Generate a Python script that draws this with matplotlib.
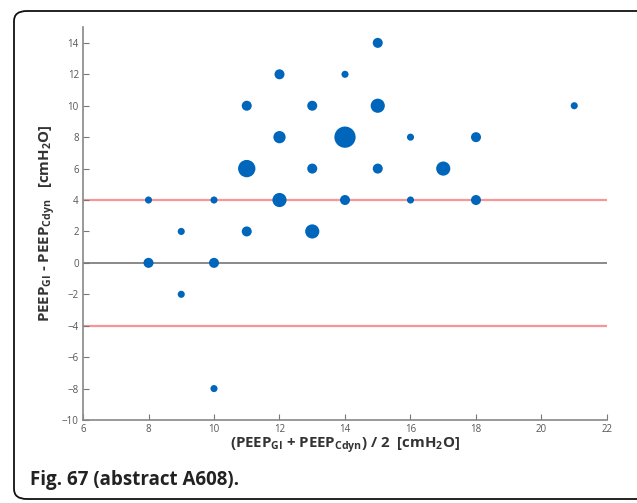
import matplotlib
matplotlib.use("Agg")
import matplotlib.pyplot as plt
from matplotlib.patches import FancyBboxPatch

# mean of the two PEEP values, difference, and number of patients at each point
mean_peep = [8, 8, 9, 9, 10, 10, 10, 11, 11, 11, 12, 12, 12, 13, 13, 13,
             14, 14, 14, 15, 15, 15, 16, 16, 17, 18, 18, 21]
diff_peep = [4, 0, 2, -2, 4, 0, -8, 10, 6, 2, 12, 8, 4, 10, 6, 2,
             12, 8, 4, 14, 10, 6, 8, 4, 6, 8, 4, 10]
counts = [1, 2, 1, 1, 1, 2, 1, 2, 6, 2, 2, 3, 4, 2, 2, 4,
          1, 9, 2, 2, 4, 2, 1, 1, 4, 2, 2, 1]

limits = [4, -4]
xticks = list(range(6, 23, 2))
yticks = list(range(-10, 15, 2))

plt.rcParams['font.family'] = ['Open Sans', 'DejaVu Sans']

fig = plt.figure(figsize=(6.37, 5.03), dpi=100)
ax = fig.add_axes([0.1303, 0.165, 0.8226, 0.781])

ax.axhline(0, color='#808080', lw=1.3, zorder=1)
for lim in limits:
    ax.axhline(lim, color='#f47c7c', lw=1.6, alpha=0.8, zorder=1)

ax.scatter(mean_peep, diff_peep, s=[26 * c for c in counts],
           color='#0066bb', edgecolors='none', zorder=3)

ax.set_xlim(6, 22)
ax.set_ylim(-10, 15)
ax.set_xticks(xticks)
ax.set_yticks(yticks)
ax.tick_params(direction='in', length=4, width=0.8, colors='#777777',
               labelsize=7, labelcolor='#555555', pad=3)
for side in ['top', 'right']:
    ax.spines[side].set_visible(False)
for side in ['left', 'bottom']:
    ax.spines[side].set_color('#888888')
    ax.spines[side].set_linewidth(1.2)

ax.set_xlabel(r'(PEEP$_{\mathregular{GI}}$ + PEEP$_{\mathregular{Cdyn}}$) / 2  [cmH$_{\mathregular{2}}$O]',
              fontsize=10.8, fontweight='bold', color='#333333', labelpad=0)
ax.set_ylabel(r'PEEP$_{\mathregular{GI}}$ - PEEP$_{\mathregular{Cdyn}}$   [cmH$_{\mathregular{2}}$O]',
              fontsize=10.8, fontweight='bold', color='#333333', labelpad=3)

fig.text(30 / 637, 1 - 485 / 503, 'Fig. 67 (abstract A608).', fontsize=13.5,
         fontweight='bold', color='#222222', ha='left', va='baseline')

box = FancyBboxPatch((14 / 637, 4 / 503), 640 / 637, 488 / 503,
                     boxstyle='round,pad=0,rounding_size=0.02',
                     transform=fig.transFigure, fill=False,
                     edgecolor='#111111', lw=1.3, clip_on=False)
fig.patches.append(box)

fig.savefig('out.png', dpi=100)
